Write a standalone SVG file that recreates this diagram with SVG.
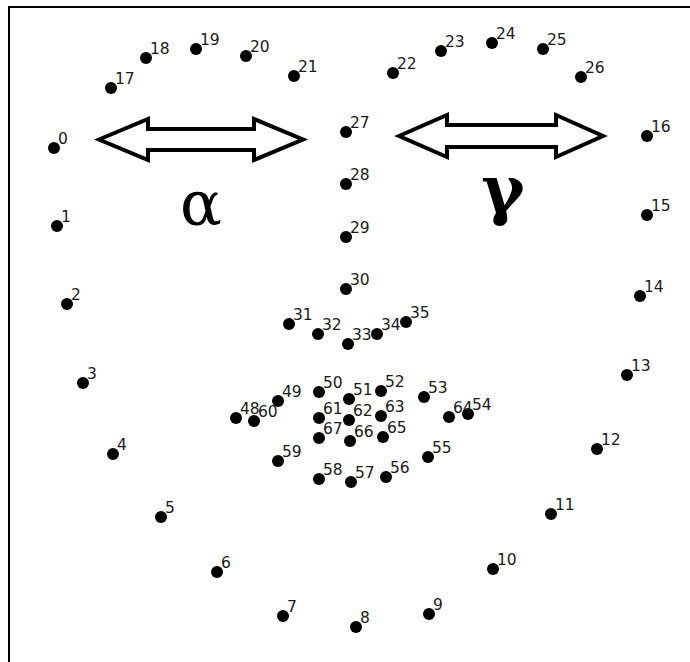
<svg xmlns="http://www.w3.org/2000/svg" width="690" height="662" viewBox="0 0 690 662">
  <style>
    .lm circle { fill: #000; }
    .lm text { font-family: "DejaVu Sans", "Liberation Sans", sans-serif; font-size: 15.5px; fill: #1a1a1a; }
    .arrow { fill: #fff; stroke: #000; stroke-width: 4; stroke-linejoin: miter; stroke-miterlimit: 10; }
    .greek { font-family: "DejaVu Serif", serif; fill: #000; text-anchor: middle; }
    .frame { stroke: #000; stroke-width: 2; fill: none; }
  </style>
  <rect width="690" height="662" fill="#fff"/>
  <!-- frame: top and left edges -->
  <path class="frame" d="M9 662 V7 H690"/>

  <!-- width arrows -->
  <g id="arrows">
    <path class="arrow" d="M99 139.5 L148 119 V129 H254 V119 L303 139.5 L254 160 V150 H148 V160 Z"/>
    <path class="arrow" d="M399 136 L447 115 V125 H556 V115 L603 136 L556 157 V147 H447 V157 Z"/>
  </g>
  <text class="greek" x="201" y="225" font-size="62">α</text>
  <text class="greek" x="503" y="212" font-size="66" font-weight="bold">γ</text>

  <!-- landmark points: dot with index label -->
  <g id="lm-0" class="lm"><circle cx="54" cy="148" r="6"/><text x="58" y="144">0</text></g>
  <g id="lm-1" class="lm"><circle cx="57" cy="226" r="6"/><text x="61" y="222">1</text></g>
  <g id="lm-2" class="lm"><circle cx="67" cy="304" r="6"/><text x="71" y="300">2</text></g>
  <g id="lm-3" class="lm"><circle cx="83" cy="383" r="6"/><text x="87" y="379">3</text></g>
  <g id="lm-4" class="lm"><circle cx="113" cy="454" r="6"/><text x="117" y="450">4</text></g>
  <g id="lm-5" class="lm"><circle cx="161" cy="517" r="6"/><text x="165" y="513">5</text></g>
  <g id="lm-6" class="lm"><circle cx="217" cy="572" r="6"/><text x="221" y="568">6</text></g>
  <g id="lm-7" class="lm"><circle cx="283" cy="616" r="6"/><text x="287" y="612">7</text></g>
  <g id="lm-8" class="lm"><circle cx="356" cy="627" r="6"/><text x="360" y="623">8</text></g>
  <g id="lm-9" class="lm"><circle cx="429" cy="614" r="6"/><text x="433" y="610">9</text></g>
  <g id="lm-10" class="lm"><circle cx="493" cy="569" r="6"/><text x="497" y="565">10</text></g>
  <g id="lm-11" class="lm"><circle cx="551" cy="514" r="6"/><text x="555" y="510">11</text></g>
  <g id="lm-12" class="lm"><circle cx="597" cy="449" r="6"/><text x="601" y="445">12</text></g>
  <g id="lm-13" class="lm"><circle cx="627" cy="375" r="6"/><text x="631" y="371">13</text></g>
  <g id="lm-14" class="lm"><circle cx="640" cy="296" r="6"/><text x="644" y="292">14</text></g>
  <g id="lm-15" class="lm"><circle cx="647" cy="215" r="6"/><text x="651" y="211">15</text></g>
  <g id="lm-16" class="lm"><circle cx="647" cy="136" r="6"/><text x="651" y="132">16</text></g>
  <g id="lm-17" class="lm"><circle cx="111" cy="88" r="6"/><text x="115" y="84">17</text></g>
  <g id="lm-18" class="lm"><circle cx="146" cy="58" r="6"/><text x="150" y="54">18</text></g>
  <g id="lm-19" class="lm"><circle cx="196" cy="49" r="6"/><text x="200" y="45">19</text></g>
  <g id="lm-20" class="lm"><circle cx="246" cy="56" r="6"/><text x="250" y="52">20</text></g>
  <g id="lm-21" class="lm"><circle cx="294" cy="76" r="6"/><text x="298" y="72">21</text></g>
  <g id="lm-22" class="lm"><circle cx="393" cy="73" r="6"/><text x="397" y="69">22</text></g>
  <g id="lm-23" class="lm"><circle cx="441" cy="51" r="6"/><text x="445" y="47">23</text></g>
  <g id="lm-24" class="lm"><circle cx="492" cy="43" r="6"/><text x="496" y="39">24</text></g>
  <g id="lm-25" class="lm"><circle cx="543" cy="49" r="6"/><text x="547" y="45">25</text></g>
  <g id="lm-26" class="lm"><circle cx="581" cy="77" r="6"/><text x="585" y="73">26</text></g>
  <g id="lm-27" class="lm"><circle cx="346" cy="132" r="6"/><text x="350" y="128">27</text></g>
  <g id="lm-28" class="lm"><circle cx="346" cy="184" r="6"/><text x="350" y="180">28</text></g>
  <g id="lm-29" class="lm"><circle cx="346" cy="237" r="6"/><text x="350" y="233">29</text></g>
  <g id="lm-30" class="lm"><circle cx="346" cy="289" r="6"/><text x="350" y="285">30</text></g>
  <g id="lm-31" class="lm"><circle cx="289" cy="324" r="6"/><text x="293" y="320">31</text></g>
  <g id="lm-32" class="lm"><circle cx="318" cy="334" r="6"/><text x="322" y="330">32</text></g>
  <g id="lm-33" class="lm"><circle cx="348" cy="344" r="6"/><text x="352" y="340">33</text></g>
  <g id="lm-34" class="lm"><circle cx="377" cy="334" r="6"/><text x="381" y="330">34</text></g>
  <g id="lm-35" class="lm"><circle cx="406" cy="322" r="6"/><text x="410" y="318">35</text></g>
  <g id="lm-48" class="lm"><circle cx="236" cy="418" r="6"/><text x="240" y="414">48</text></g>
  <g id="lm-49" class="lm"><circle cx="278" cy="401" r="6"/><text x="282" y="397">49</text></g>
  <g id="lm-50" class="lm"><circle cx="319" cy="392" r="6"/><text x="323" y="388">50</text></g>
  <g id="lm-51" class="lm"><circle cx="349" cy="399" r="6"/><text x="353" y="395">51</text></g>
  <g id="lm-52" class="lm"><circle cx="381" cy="391" r="6"/><text x="385" y="387">52</text></g>
  <g id="lm-53" class="lm"><circle cx="424" cy="397" r="6"/><text x="428" y="393">53</text></g>
  <g id="lm-54" class="lm"><circle cx="468" cy="414" r="6"/><text x="472" y="410">54</text></g>
  <g id="lm-55" class="lm"><circle cx="428" cy="457" r="6"/><text x="432" y="453">55</text></g>
  <g id="lm-56" class="lm"><circle cx="386" cy="477" r="6"/><text x="390" y="473">56</text></g>
  <g id="lm-57" class="lm"><circle cx="351" cy="482" r="6"/><text x="355" y="478">57</text></g>
  <g id="lm-58" class="lm"><circle cx="319" cy="479" r="6"/><text x="323" y="475">58</text></g>
  <g id="lm-59" class="lm"><circle cx="278" cy="461" r="6"/><text x="282" y="457">59</text></g>
  <g id="lm-60" class="lm"><circle cx="254" cy="421" r="6"/><text x="258" y="417">60</text></g>
  <g id="lm-61" class="lm"><circle cx="319" cy="418" r="6"/><text x="323" y="414">61</text></g>
  <g id="lm-62" class="lm"><circle cx="349" cy="420" r="6"/><text x="353" y="416">62</text></g>
  <g id="lm-63" class="lm"><circle cx="381" cy="416" r="6"/><text x="385" y="412">63</text></g>
  <g id="lm-64" class="lm"><circle cx="449" cy="417" r="6"/><text x="453" y="413">64</text></g>
  <g id="lm-65" class="lm"><circle cx="383" cy="437" r="6"/><text x="387" y="433">65</text></g>
  <g id="lm-66" class="lm"><circle cx="350" cy="441" r="6"/><text x="354" y="437">66</text></g>
  <g id="lm-67" class="lm"><circle cx="319" cy="438" r="6"/><text x="323" y="434">67</text></g>
</svg>
